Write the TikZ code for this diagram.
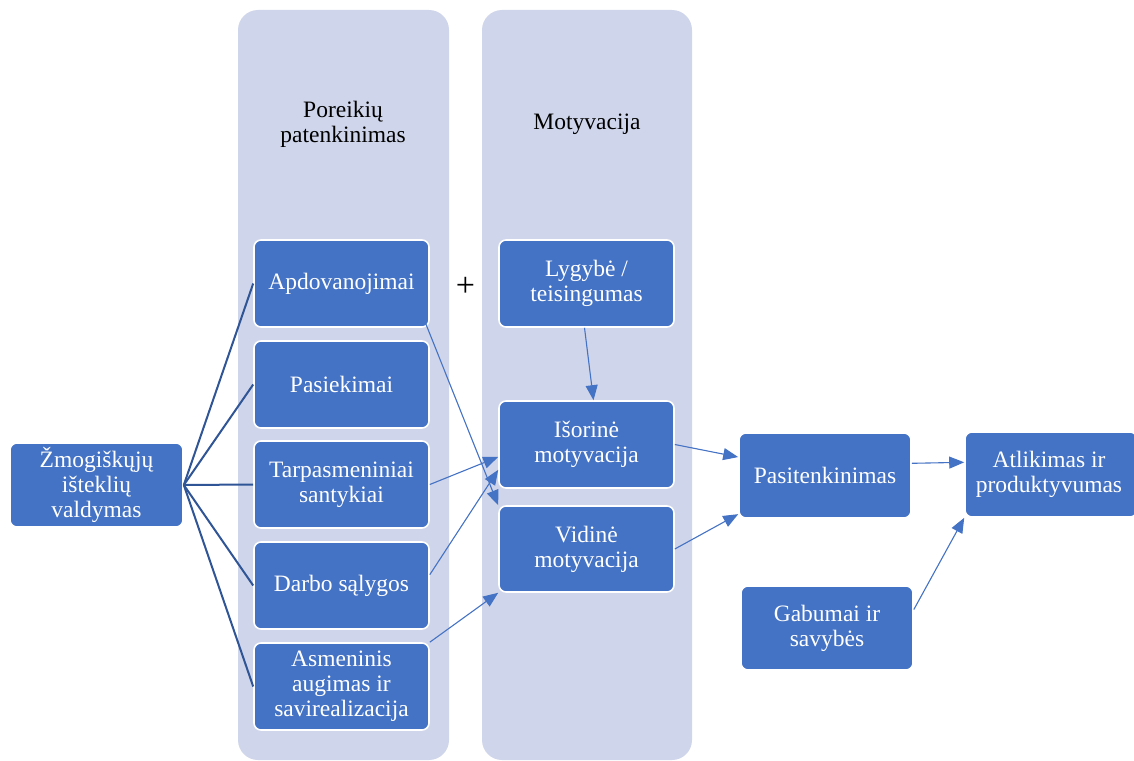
\documentclass[tikz,border=0pt]{standalone}
\usepackage{fontspec}
\setmainfont{Liberation Serif}
\newfontfamily\tnr{Liberation Serif}
\usetikzlibrary{arrows.meta,calc}
\definecolor{boxblue}{HTML}{4472C4}
\definecolor{colbg}{HTML}{CFD5EA}
\definecolor{darkline}{HTML}{2F5597}
\begin{document}
\begin{tikzpicture}[x=1pt,y=-1pt,
  every node/.style={font=\tnr\fontsize{23.5}{25}\selectfont, align=center, inner sep=0pt},
  box/.style={rectangle, rounded corners=7pt, fill=boxblue, draw=white, line width=1.6pt,
    text=white, minimum width=175pt, minimum height=87pt},
  colband/.style={fill=colbg, rounded corners=20pt},
  tree/.style={draw=darkline, line width=2pt},
  arr/.style={draw=boxblue, line width=1.1pt, -{Triangle[length=15pt,width=12pt]}}
]
\useasboundingbox (0,0) rectangle (1134,760);
% column backgrounds
\fill[colband] (238,10) rectangle (449,760);
\fill[colband] (482,10) rectangle (692,760);
\node (h1) at (343,124) {Poreikių\\patenkinimas};
\node (h2) at (587,124) {Motyvacija};
% nodes
\node[box, minimum width=173pt, minimum height=84pt] (zm) at (96.5,485) {Žmogiškųjų\\išteklių\\valdymas};
\node[box] (ap) at (341.5,283.5) {Apdovanojimai};
\node[box] (pa) at (341.5,384.5) {Pasiekimai};
\node[box] (ta) at (341.5,484.5) {Tarpasmeniniai\\santykiai};
\node[box] (da) at (341.5,585.5) {Darbo sąlygos};
\node[box] (as) at (341.5,686.5) {Asmeninis\\augimas ir\\savirealizacija};
\node[font=\tnr\fontsize{34}{34}\selectfont] (plus) at (465.5,287) {+};
\node[box] (ly) at (586.5,283.5) {Lygybė /\\teisingumas};
\node[box] (is) at (586.5,444.5) {Išorinė\\motyvacija};
\node[box, minimum height=86pt] (vi) at (586.5,549) {Vidinė\\motyvacija};
\node[box, minimum width=172pt, minimum height=85pt] (pt) at (825,475.5) {Pasitenkinimas};
\node[box, minimum width=172pt, minimum height=85pt] (at) at (1051,474.5) {\hspace*{-4pt}Atlikimas ir\\\hspace*{-4pt}produktyvumas};
\node[box, minimum width=172pt, minimum height=84pt] (gb) at (827,628) {Gabumai ir\\savybės};
% tree lines
\foreach \n in {ap,pa,ta,da,as} \draw[tree] (zm.east) -- (\n.west);
% arrows
\draw[arr] ($(ap.south east)+(-4,-4)$) -- (vi.north west);
\draw[arr] (ta.east) -- (is.188);
\draw[arr] (da.7) -- (is.196);
\draw[arr] (as.north east) -- (vi.south west);
\draw[arr] ($(ly.south)+(-2,0)$) -- ($(is.north)+(7,0)$);
\draw[arr] (is.east) -- (pt.168);
\draw[arr] (vi.east) -- (pt.204);
\draw[arr] (pt.8) -- (at.172);
\draw[arr] (gb.12) -- (at.south west);
\end{tikzpicture}
\end{document}
